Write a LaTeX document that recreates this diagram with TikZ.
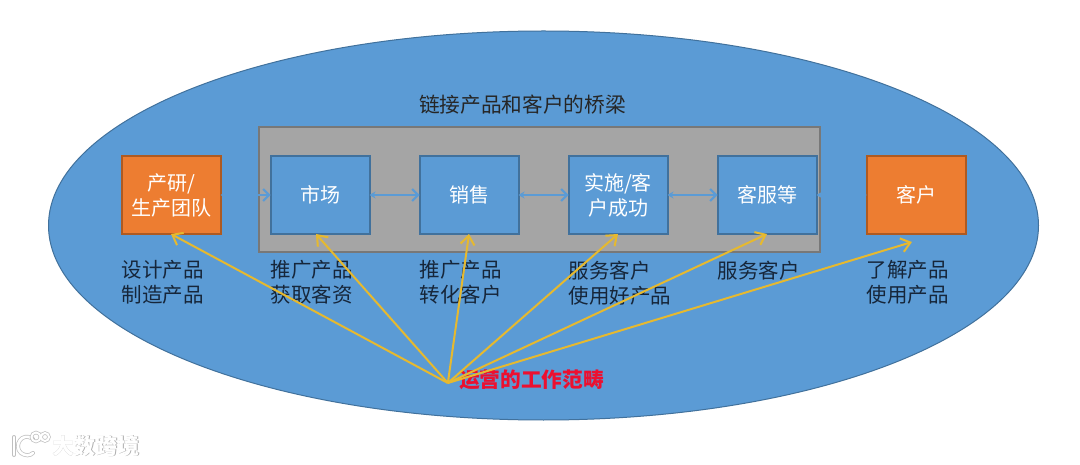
\documentclass[tikz,border=0pt]{standalone}
\usepackage{fontspec}
\setmainfont{Noto Sans CJK SC}
\usetikzlibrary{positioning,arrows.meta,calc}
\definecolor{skyfill}{HTML}{5B9BD5}
\definecolor{skyline}{HTML}{41719C}
\definecolor{orfill}{HTML}{ED7D31}
\definecolor{orline}{HTML}{AE5A21}
\definecolor{greyfill}{HTML}{A5A5A5}
\definecolor{greyline}{HTML}{787878}
\definecolor{linkyel}{HTML}{E6B92F}
\definecolor{subtxt}{HTML}{16263A}
\definecolor{opsred}{HTML}{EC1030}
\tikzset{
  box/.style={draw=skyline,fill=skyfill,line width=2pt,outer sep=0pt,minimum width=99pt,minimum height=78pt,inner sep=0pt,align=center,text=white,font=\fontsize{20}{25}\selectfont},
  orbox/.style={box,draw=orline,fill=orfill},
  subtext/.style={inner sep=0pt,align=left,anchor=north west,text=subtxt,font=\fontsize{20.5}{25}\selectfont},
  flow/.style={skyfill,line width=2pt,{Stealth[length=6pt,width=7pt]}-{Straight Barb[length=6pt,width=12pt]}},
  yellink/.style={linkyel,line width=2pt,-{Straight Barb[length=9pt,width=14pt]}}
}
\begin{document}
\begin{tikzpicture}[x=1pt,y=-1pt]
  \useasboundingbox (0,0) rectangle (1080,465);
  \fill[white] (0,0) rectangle (1080,465);
  \draw[skyline,fill=skyfill,line width=1pt] (543.5,225.5) ellipse [x radius=495, y radius=194.5];
  % grey band behind the four middle boxes
  \node[draw=greyline,fill=greyfill,line width=2pt,outer sep=0pt,minimum width=561pt,minimum height=125pt,inner sep=0pt] (band) at (539.5,189.5) {};
  \node[inner sep=0pt,text=black!85,font=\fontsize{20.7}{25}\selectfont] (bridge) at (522.5,105) {链接产品和客户的桥梁};
  % boxes left to right
  \node[orbox] (prod) at (171,195) {产研/\\生产团队};
  \node[box,right=50pt of prod] (mkt) {市场};
  \node[box,right=50pt of mkt] (sale) {销售};
  \node[box,right=50pt of sale] (impl) {实施/客\\户成功};
  \node[box,right=50pt of impl] (serv) {客服等};
  \node[orbox,right=50pt of serv] (cust) {客户};
  % arrows between the boxes
  \foreach \a/\b in {prod/mkt,mkt/sale,sale/impl,impl/serv,serv/cust}
    \draw[flow] (\a) -- (\b);
  % text under the boxes
  \foreach \b/\lbl in {prod/{设计产品\\制造产品},mkt/{推广产品\\获取客资},sale/{推广产品\\转化客户},impl/{服务客户\\使用好产品},serv/{服务客户},cust/{了解产品\\使用产品}}
    \node[subtext] (\b-sub) at ($(\b.south west)+(0,26.5)$) {\lbl};
  % red label and the links fanning out of it
  \node[inner sep=0pt,text=opsred,font=\bfseries\fontsize{20.7}{25}\selectfont] (ops) at (531.5,380) {运营的工作范畴};
  \coordinate (hub) at ($(ops.west)+(-11,3)$);
  \coordinate (mktend) at ($(mkt.south)+(-4,0)$);
  \coordinate (custend) at ($(cust.south)+(-4,8)$);
  \foreach \t in {prod.south,mktend,sale.south,impl.south,serv.south,custend}
    \draw[yellink] (hub) -- (\t);
  % watermark
  \begin{scope}[white,line width=2.6pt,line cap=round]
    \draw[black!25,line width=4pt] (14,437) -- (14,455);
    \draw[black!25,line width=4pt] (33,439) .. controls (22,431) and (13,446) .. (21,453) .. controls (25,456) and (30,456) .. (33,453);
    \draw (14,437) -- (14,455);
    \draw (33,439) .. controls (22,431) and (13,446) .. (21,453) .. controls (25,456) and (30,456) .. (33,453);
  \end{scope}
  \draw[white,line width=2pt,preaction={draw=black!25,line width=3.4pt}] (36,437) circle (4.5pt) (45,437) circle (4pt);
  \node[inner sep=0pt,text=black!32,font=\bfseries\fontsize{22}{25}\selectfont] (wmshade) at (96.5,446.5) {大数跨境};
  \node[inner sep=0pt,text=white,font=\bfseries\fontsize{22}{25}\selectfont] (wm) at (96,446) {大数跨境};
\end{tikzpicture}
\end{document}
